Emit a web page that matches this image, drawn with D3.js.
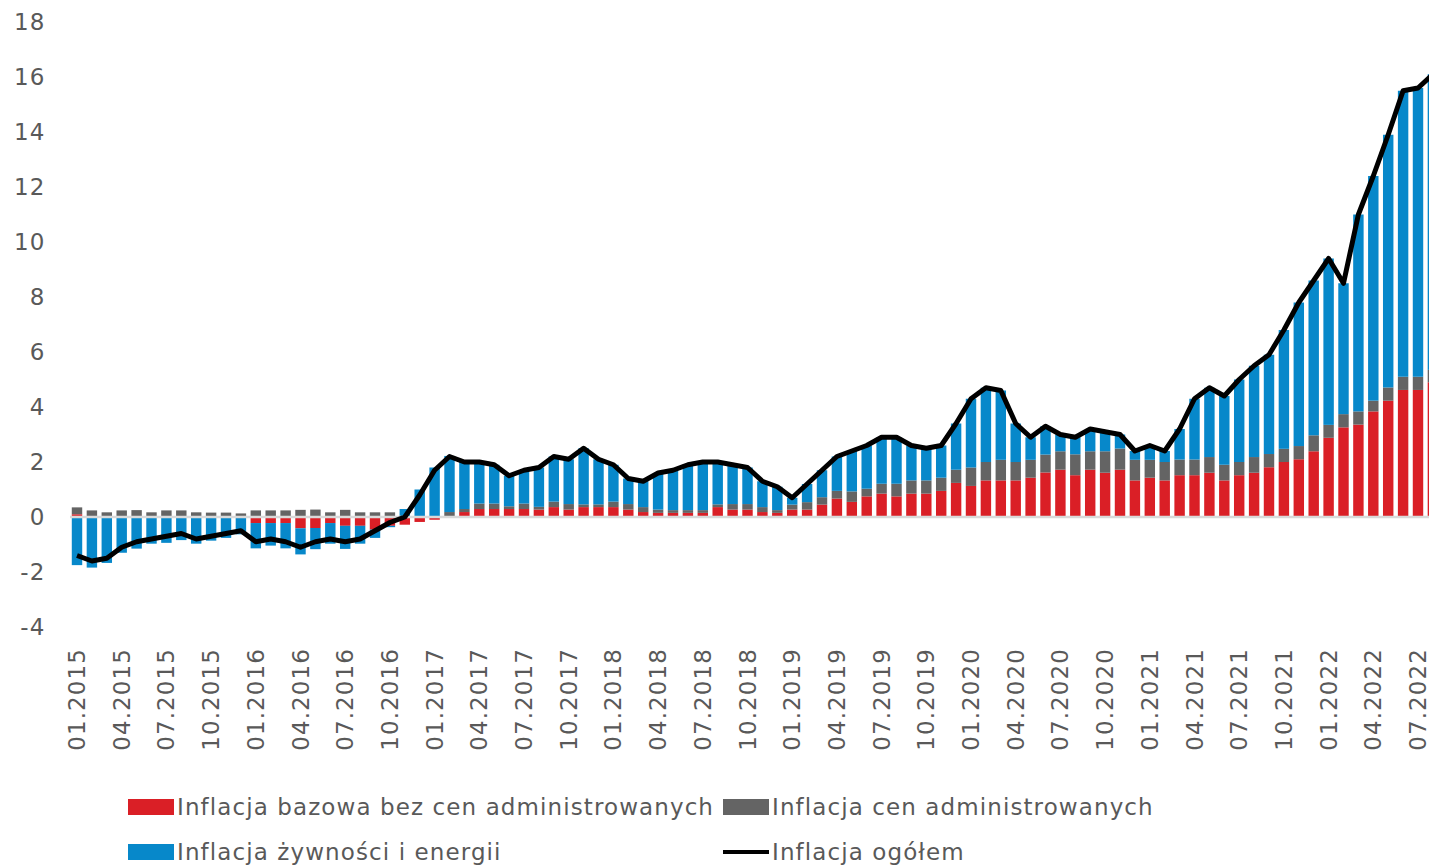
<!DOCTYPE html>
<html><head><meta charset="utf-8">
<script src="https://cdn.jsdelivr.net/npm/d3@7"></script>
<style>
html,body{margin:0;padding:0;background:#fff;overflow:hidden;}
svg{display:block;font-family:"DejaVu Sans",Verdana,sans-serif;}
</style></head>
<body>
<svg id="c" width="1429" height="865"></svg>
<script>
// Months 01.2015 .. 08.2022
const months = [];
for (let y = 2015; y <= 2022; y++) for (let m = 1; m <= 12; m++) {
  if (y === 2022 && m > 8) break;
  months.push(String(m).padStart(2, "0") + "." + y);
}
// Inflacja bazowa bez cen administrowanych (red)
const core = [
  0.10, 0.00, 0.03, 0.00, 0.03, 0.03, 0.00, 0.00, 0.03, 0.00, 0.00, 0.00,
  -0.22, -0.22, -0.22, -0.41, -0.40, -0.22, -0.32, -0.32, -0.46, -0.32, -0.28, -0.18,
  -0.10, -0.02, 0.18, 0.29, 0.29, 0.29, 0.29, 0.27, 0.36, 0.27, 0.36, 0.36,
  0.36, 0.27, 0.18, 0.15, 0.15, 0.15, 0.15, 0.36, 0.27, 0.27, 0.18, 0.15,
  0.27, 0.27, 0.45, 0.67, 0.55, 0.75, 0.85, 0.75, 0.85, 0.85, 0.95, 1.24,
  1.13, 1.33, 1.33, 1.33, 1.43, 1.62, 1.72, 1.52, 1.72, 1.61, 1.72, 1.33,
  1.43, 1.33, 1.52, 1.52, 1.61, 1.33, 1.52, 1.61, 1.81, 2.00, 2.10, 2.39,
  2.88, 3.26, 3.36, 3.84, 4.23, 4.62, 4.62, 4.90
];
// Inflacja cen administrowanych (gray)
const admin = [
  0.25, 0.24, 0.14, 0.24, 0.22, 0.14, 0.24, 0.24, 0.14, 0.16, 0.16, 0.13,
  0.24, 0.24, 0.24, 0.26, 0.27, 0.17, 0.26, 0.17, 0.17, 0.17, 0.02, 0.00,
  0.02, 0.18, 0.11, 0.20, 0.20, 0.10, 0.20, 0.10, 0.20, 0.20, 0.10, 0.10,
  0.20, 0.20, 0.18, 0.12, 0.10, 0.10, 0.10, 0.10, 0.20, 0.20, 0.18, 0.10,
  0.18, 0.27, 0.27, 0.28, 0.38, 0.28, 0.36, 0.46, 0.48, 0.48, 0.48, 0.48,
  0.67, 0.67, 0.75, 0.67, 0.65, 0.65, 0.67, 0.76, 0.67, 0.78, 0.77, 0.75,
  0.65, 0.67, 0.57, 0.57, 0.57, 0.57, 0.48, 0.57, 0.48, 0.48, 0.48, 0.58,
  0.47, 0.48, 0.48, 0.39, 0.48, 0.48, 0.48, 0.45
];
// Inflacja żywności i energii (blue)
const foodEnergy = [
  -1.75, -1.84, -1.67, -1.30, -1.15, -0.97, -0.94, -0.84, -0.97, -0.86, -0.76, -0.63,
  -0.92, -0.82, -0.92, -0.95, -0.77, -0.75, -0.84, -0.65, -0.30, -0.05, 0.27, 1.00,
  1.78, 2.04, 1.71, 1.51, 1.41, 1.11, 1.21, 1.43, 1.64, 1.63, 2.04, 1.64,
  1.34, 0.93, 0.94, 1.33, 1.45, 1.65, 1.75, 1.54, 1.43, 1.33, 0.94, 0.85,
  0.25, 0.66, 0.98, 1.25, 1.47, 1.57, 1.69, 1.69, 1.27, 1.17, 1.17, 1.68,
  2.50, 2.70, 2.52, 1.40, 0.82, 1.03, 0.61, 0.62, 0.81, 0.71, 0.51, 0.32,
  0.52, 0.40, 1.11, 2.21, 2.52, 2.50, 3.00, 3.32, 3.61, 4.32, 5.22, 5.63,
  6.05, 4.76, 7.16, 8.17, 9.19, 10.40, 10.50, 10.75
];
// Inflacja ogółem (line)
const total = [
  -1.4, -1.6, -1.5, -1.1, -0.9, -0.8, -0.7, -0.6, -0.8, -0.7, -0.6, -0.5,
  -0.9, -0.8, -0.9, -1.1, -0.9, -0.8, -0.9, -0.8, -0.5, -0.2, 0.0, 0.8,
  1.7, 2.2, 2.0, 2.0, 1.9, 1.5, 1.7, 1.8, 2.2, 2.1, 2.5, 2.1,
  1.9, 1.4, 1.3, 1.6, 1.7, 1.9, 2.0, 2.0, 1.9, 1.8, 1.3, 1.1,
  0.7, 1.2, 1.7, 2.2, 2.4, 2.6, 2.9, 2.9, 2.6, 2.5, 2.6, 3.4,
  4.3, 4.7, 4.6, 3.4, 2.9, 3.3, 3.0, 2.9, 3.2, 3.1, 3.0, 2.4,
  2.6, 2.4, 3.2, 4.3, 4.7, 4.4, 5.0, 5.5, 5.9, 6.8, 7.8, 8.6,
  9.4, 8.5, 11.0, 12.4, 13.9, 15.5, 15.6, 16.1
];
const yTicks = [-4, -2, 0, 2, 4, 6, 8, 10, 12, 14, 16, 18];
const seriesNames = ["Inflacja bazowa bez cen administrowanych", "Inflacja cen administrowanych", "Inflacja żywności i energii"];
const lineName = "Inflacja ogółem";
const colors = ["#DA1F26", "#646464", "#0788CA"];

const FONT = "DejaVu Sans, Verdana, sans-serif";
const FS = 23;
const LS = 1.1;

const svg = d3.select("#c");
const step = 14.9, x0 = 69.55;
const x = d3.scaleBand().domain(months).range([x0, x0 + step * months.length]).paddingInner(0.3).paddingOuter(0.15);
const y = d3.scaleLinear().domain([-4, 18]).range([627, 22]);

const rows = months.map((m, i) => ({ m, core: core[i], admin: admin[i], fe: foodEnergy[i] }));
const keys = ["core", "admin", "fe"];
const stack = d3.stack().keys(keys).offset(d3.stackOffsetDiverging)(rows);

svg.append("g").selectAll("g").data(stack).join("g")
  .attr("fill", (d, i) => colors[i])
  .selectAll("rect").data(d => d).join("rect")
  .attr("x", d => x(d.data.m))
  .attr("width", x.bandwidth())
  .attr("y", d => y(Math.max(d[0], d[1])))
  .attr("height", d => Math.abs(y(d[0]) - y(d[1])));

// zero axis line
svg.append("line").attr("x1", 70).attr("x2", 1440).attr("y1", y(0)).attr("y2", y(0))
  .attr("stroke", "#d9d9d9").attr("stroke-width", 2.5);

// total line
const line = d3.line().x((d, i) => x(months[i]) + x.bandwidth() / 2).y(d => y(d));
svg.append("path").datum(total).attr("d", line).attr("fill", "none")
  .attr("stroke", "#000").attr("stroke-width", 5).attr("stroke-linejoin", "round");

// y axis labels
const ya = svg.append("g").attr("transform", "translate(45.5,0)")
  .call(d3.axisLeft(y).tickValues(yTicks).tickSize(0).tickPadding(0).tickFormat(d => String(d)));
ya.select(".domain").remove();
ya.selectAll("text").attr("font-size", FS).attr("fill", "#595959").attr("font-family", FONT).attr("letter-spacing", LS);

// x axis labels (rotated), every 3rd month
const xa = svg.append("g").attr("transform", "translate(0,648)")
  .call(d3.axisBottom(x).tickValues(months.filter((m, i) => i % 3 === 0)).tickSize(0).tickPadding(0));
xa.select(".domain").remove();
xa.selectAll("text").attr("font-size", FS).attr("fill", "#595959").attr("font-family", FONT).attr("letter-spacing", LS)
  .attr("transform", "rotate(-90)").attr("text-anchor", "end").attr("dy", "0.35em").attr("x", 0).attr("y", 0);

// legend
const legendItems = [
  { name: seriesNames[0], type: "rect", color: colors[0], lx: 128, ly: 807 },
  { name: seriesNames[1], type: "rect", color: colors[1], lx: 723, ly: 807 },
  { name: seriesNames[2], type: "rect", color: colors[2], lx: 128, ly: 852 },
  { name: lineName, type: "line", color: "#000", lx: 723, ly: 852 }
];
const lg = svg.append("g").selectAll("g").data(legendItems).join("g")
  .attr("transform", d => `translate(${d.lx},${d.ly})`);
lg.filter(d => d.type === "rect").append("rect").attr("x", 0).attr("y", -8).attr("width", 46).attr("height", 16).attr("fill", d => d.color);
lg.filter(d => d.type === "line").append("line").attr("x1", 0).attr("x2", 46).attr("y1", 0).attr("y2", 0).attr("stroke", "#000").attr("stroke-width", 4);
lg.append("text").attr("x", 49).attr("y", 0).attr("dy", "0.35em").attr("font-size", FS).attr("fill", "#595959")
  .attr("font-family", FONT).attr("letter-spacing", LS).text(d => d.name);
</script>
</body></html>
